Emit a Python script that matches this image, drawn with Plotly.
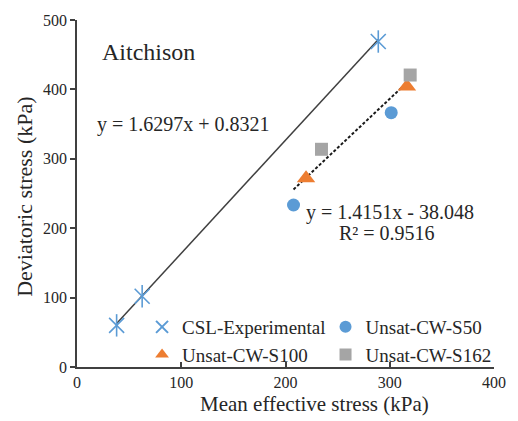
import plotly.graph_objects as go

# ---- data ----
csl_x = [38, 62.5, 289]
csl_y = [60, 102, 469]
s50_x = [207.7, 301.4]
s50_y = [233.4, 366.5]
s100_x = [219.7, 316.5]
s100_y = [271.8, 404]
s162_x = [234.5, 319.6]
s162_y = [313.7, 420.7]
csl_fit = [1.6297, 0.8321]      # slope, intercept
unsat_fit = [1.4151, -38.048]   # slope, intercept
unsat_r2 = 0.9516
x_ticks = [0, 100, 200, 300, 400]
y_ticks = [0, 100, 200, 300, 400, 500]

FONT = "Liberation Serif"
TXT = "#262626"
BLUE = "#5B9BD5"
ORANGE = "#ED7D31"
GREY = "#A5A5A5"

fig = go.Figure()

# trendlines
cx = [min(csl_x), max(csl_x)]
fig.add_trace(go.Scatter(x=cx, y=[csl_fit[0] * v + csl_fit[1] for v in cx], mode="lines",
                         line=dict(color="#404040", width=1.5), showlegend=False, hoverinfo="skip"))
ux_all = s50_x + s100_x + s162_x
ux = [min(ux_all), max(ux_all)]
fig.add_trace(go.Scatter(x=ux, y=[unsat_fit[0] * v + unsat_fit[1] for v in ux], mode="lines",
                         line=dict(color="#1a1a1a", width=2, dash="3px,2px"), showlegend=False, hoverinfo="skip"))

# CSL experimental: x + vertical line = 6-arm star
fig.add_trace(go.Scatter(x=csl_x, y=csl_y, mode="markers", name="CSL-Experimental",
                         marker=dict(symbol="x-thin-open", size=15, color=BLUE, line=dict(color=BLUE, width=1.6)),
                         legend="legend"))
fig.add_trace(go.Scatter(x=csl_x, y=csl_y, mode="markers", showlegend=False,
                         marker=dict(symbol="line-ns-open", size=16, color=BLUE, line=dict(color=BLUE, width=1.6))))
fig.add_trace(go.Scatter(x=s100_x, y=s100_y, mode="markers", name="Unsat-CW-S100",
                         marker=dict(symbol="triangle-up", size=16, color=ORANGE), legend="legend"))
fig.add_trace(go.Scatter(x=s50_x, y=s50_y, mode="markers", name="Unsat-CW-S50",
                         marker=dict(symbol="circle", size=13, color=BLUE), legend="legend2"))
fig.add_trace(go.Scatter(x=s162_x, y=s162_y, mode="markers", name="Unsat-CW-S162",
                         marker=dict(symbol="square", size=13, color=GREY), legend="legend2"))

def ann(text, x, y, size=20, xanchor="left", xref="x", yref="y", angle=0):
    fig.add_annotation(text=text, x=x, y=y, xref=xref, yref=yref, showarrow=False, textangle=angle,
                       xanchor=xanchor, yanchor="middle", font=dict(family=FONT, size=size, color=TXT))

ann("Aitchison", 69, 454, size=24, xanchor="center")
ann(f"y = {csl_fit[0]}x + {csl_fit[1]}", 17, 349)
ann(f"y = {unsat_fit[0]}x - {abs(unsat_fit[1])}", 218, 222)
ann(f"R² = {unsat_r2}", 297, 193, xanchor="center")
# axis titles
ann("Mean effective stress (kPa)", 0.57, -0.108, size=21, xanchor="center", xref="paper", yref="paper")
ann("Deviatoric stress (kPa)", -0.125, 0.49, size=22, xanchor="center", xref="paper", yref="paper", angle=-90)

axis_common = dict(showgrid=False, zeroline=False, showline=True, linecolor="#404040", linewidth=1.5,
                   tickcolor="#404040", tickwidth=1.5, ticklen=5,
                   tickfont=dict(family=FONT, size=16, color=TXT))

legfont = dict(family=FONT, size=19, color=TXT)
fig.update_layout(
    width=518, height=421,
    margin=dict(l=77, r=18, t=20, b=54),
    paper_bgcolor="white", plot_bgcolor="white",
    font=dict(family=FONT, color=TXT),
    xaxis=dict(range=[0, 400], tickvals=x_ticks, ticks="inside", **axis_common),
    yaxis=dict(range=[0, 500], tickvals=y_ticks, ticks="outside", **axis_common),
    legend=dict(x=0.156, y=0.17, xanchor="left", yanchor="top", bgcolor="rgba(0,0,0,0)",
                font=legfont, itemsizing="constant", tracegroupgap=0),
    legend2=dict(x=0.596, y=0.17, xanchor="left", yanchor="top", bgcolor="rgba(0,0,0,0)",
                 font=legfont, itemsizing="constant", tracegroupgap=0),
)

fig.write_html("out.html")
